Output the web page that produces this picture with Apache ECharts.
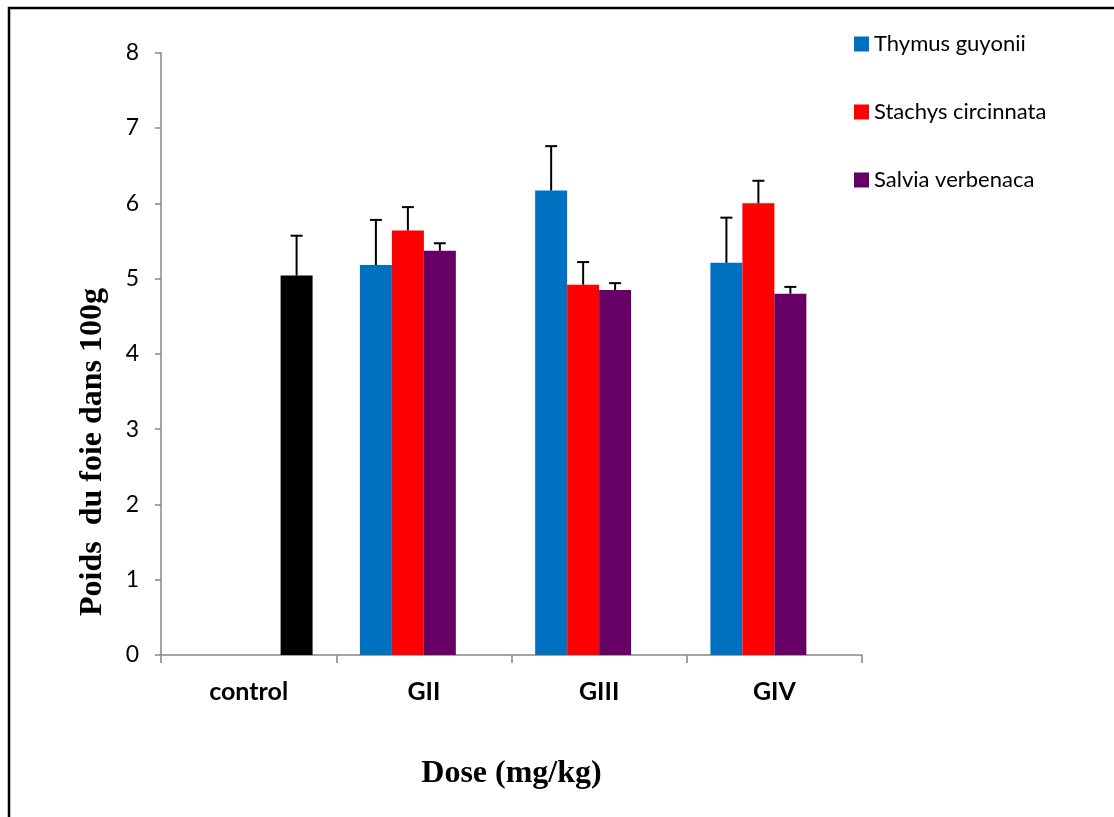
<!DOCTYPE html>
<html>
<head>
<meta charset="utf-8">
<style>
  html, body { margin: 0; padding: 0; background: #fff; }
  #chart { width: 1114px; height: 817px; }
</style>
<script src="https://cdn.jsdelivr.net/npm/echarts@6/dist/echarts.min.js"></script>
</head>
<body>
<div id="chart"></div>
<script>
// groupes de dose
var categories = ['control', 'GII', 'GIII', 'GIV'];
var seriesNames = ['Thymus guyonii', 'Stachys circinnata', 'Salvia verbenaca', 'control'];
// moyennes (poids du foie / 100g)
var thymus = [null, 5.18, 6.17, 5.21];
var stachys = [null, 5.64, 4.92, 6.00];
var salvia = [null, 5.37, 4.85, 4.80];
var controle = [5.04, null, null, null];
// ecart (barre d'erreur vers le haut)
var thymusErr = [null, 0.60, 0.59, 0.60];
var stachysErr = [null, 0.31, 0.30, 0.30];
var salviaErr = [null, 0.10, 0.09, 0.09];
var controleErr = [0.53, null, null, null];

var colors = ['#0070C0', '#FF0000', '#660066', '#000000'];
var catGap = 0.27; // barCategoryGap

var values = [thymus, stachys, salvia, controle];
var errs = [thymusErr, stachysErr, salviaErr, controleErr];

var myChart = echarts.init(document.getElementById('chart'));

function errSeries(idx) {
    var d = [];
    for (var i = 0; i < categories.length; i++) {
        if (values[idx][i] != null) d.push([i, values[idx][i], values[idx][i] + errs[idx][i]]);
    }
    return {
        type: 'custom',
        name: seriesNames[idx] + '_err',
        z: 10,
        renderItem: function (params, api) {
            var band = api.size([1, 0])[0];
            var groupW = band * (1 - catGap);
            var bw = groupW / 4;
            var off = -groupW / 2 + bw * (idx + 0.5);
            var base = api.coord([api.value(0), api.value(1)]);
            var top = api.coord([api.value(0), api.value(2)]);
            var x = base[0] + off;
            var cap = 6;
            var st = { stroke: '#000', lineWidth: 2 };
            return {
                type: 'group',
                children: [
                    { type: 'line', shape: { x1: x, y1: base[1], x2: x, y2: top[1] }, style: st },
                    { type: 'line', shape: { x1: x - cap, y1: top[1], x2: x + cap, y2: top[1] }, style: st }
                ]
            };
        },
        encode: { x: 0, y: [1, 2] },
        data: d
    };
}

var series = [];
for (var s = 0; s < 4; s++) {
    series.push({
        name: seriesNames[s],
        type: 'bar',
        data: values[s],
        barGap: '0%',
        barCategoryGap: (catGap * 100) + '%',
        itemStyle: { color: colors[s] }
    });
}
for (var s2 = 0; s2 < 4; s2++) series.push(errSeries(s2));

var option = {
    animation: false,
    backgroundColor: '#fff',
    textStyle: { fontFamily: 'Lato' },
    legend: {
        data: seriesNames.slice(0, 3),
        orient: 'vertical',
        left: 849,
        top: 28,
        itemWidth: 15,
        itemHeight: 15,
        itemGap: 46,
        icon: 'rect',
        textStyle: { fontFamily: 'Lato', fontSize: 22, color: '#000' }
    },
    grid: { left: 161, top: 52.8, width: 701, height: 602.2 },
    xAxis: {
        type: 'category',
        data: categories,
        name: 'Dose (mg/kg)',
        nameLocation: 'middle',
        nameGap: 103,
        nameTextStyle: { fontFamily: 'Liberation Serif', fontWeight: 'bold', fontSize: 32, color: '#000' },
        axisLine: { lineStyle: { color: '#868686', width: 1.5 } },
        axisTick: { show: true, length: 8, lineStyle: { color: '#868686', width: 1.5 } },
        axisLabel: { fontFamily: 'Lato', fontWeight: 'bold', fontSize: 25, color: '#000', margin: 24 }
    },
    yAxis: {
        type: 'value',
        min: 0,
        max: 8,
        interval: 1,
        splitLine: { show: false },
        axisLine: { show: true, lineStyle: { color: '#868686', width: 1.5 } },
        axisTick: { show: true, length: 6, lineStyle: { color: '#868686', width: 1.5 } },
        axisLabel: { fontFamily: 'Lato', fontSize: 23, color: '#000', margin: 22 }
    },
    graphic: [
        {
            type: 'polyline',
            shape: { points: [[9, 817], [9, 8], [1114, 8]] },
            style: { stroke: '#000', lineWidth: 2.5, fill: null }
        },
        {
            type: 'text',
            x: 93,
            y: 452,
            rotation: Math.PI / 2,
            style: {
                text: 'Poids  du foie dans 100g',
                fontFamily: 'Liberation Serif',
                fontWeight: 'bold',
                fontSize: 32,
                fill: '#000',
                align: 'center',
                verticalAlign: 'middle'
            }
        }
    ],
    series: series
};

myChart.setOption(option);
</script>
</body>
</html>
